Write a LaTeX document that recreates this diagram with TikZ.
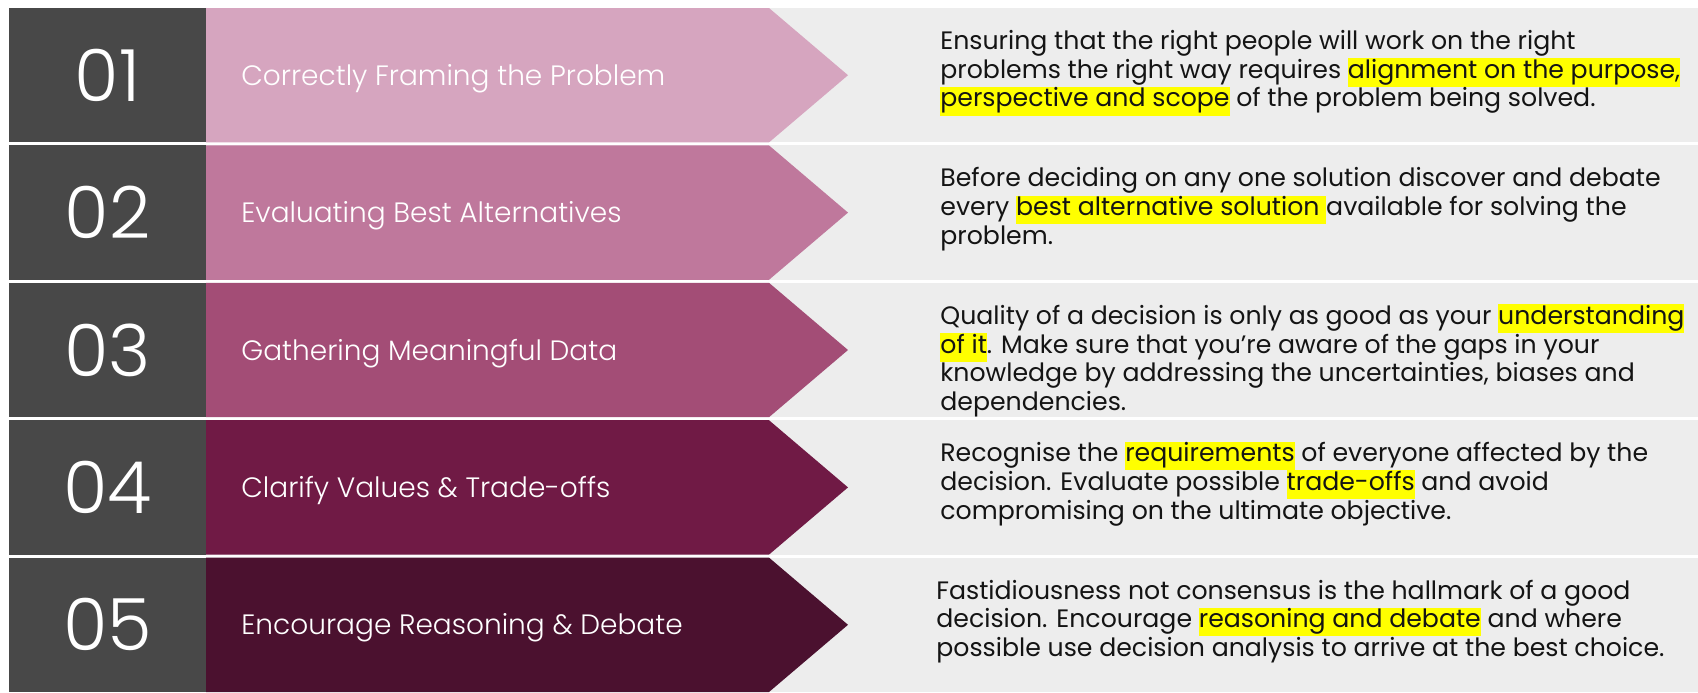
\documentclass[tikz,border=0pt]{standalone}
\usepackage{fontspec}
\setmainfont{Poppins}
\newfontfamily\lightfont{Poppins Light}
\usetikzlibrary{positioning}

\definecolor{numgray}{HTML}{484848}
\definecolor{rowgray}{HTML}{EDEDED}
\definecolor{textblack}{HTML}{141414}
\definecolor{hlyellow}{HTML}{FFFF00}
\definecolor{stepA}{HTML}{D6A5BF}
\definecolor{stepB}{HTML}{BF789C}
\definecolor{stepC}{HTML}{A34D76}
\definecolor{stepD}{HTML}{701A45}
\definecolor{stepE}{HTML}{4B112F}

\newcommand{\hl}[1]{{\setlength{\fboxsep}{0pt}\colorbox{hlyellow}{\strut #1}}}

\begin{document}
\begin{tikzpicture}[x=0.5pt,y=-0.5pt,
    numtext/.style={text=white,font=\lightfont\fontsize{36}{40}\selectfont},
    title/.style={text=white,anchor=west,inner sep=0pt,font=\lightfont\fontsize{14}{16}\selectfont},
    desc/.style={text=textblack,anchor=north west,inner sep=0pt,align=left,font=\fontsize{12.6}{14.35}\selectfont}]
  \useasboundingbox (0,0) rectangle (1698,692);

  \foreach \i/\c in {1/stepA,2/stepB,3/stepC,4/stepD,5/stepE} {
    \pgfmathsetmacro\top{8+137.4*(\i-1)}
    \pgfmathsetmacro\bot{\top+134.4}
    \pgfmathsetmacro\mid{\top+67.2}
    \fill[rowgray] (9,\top) rectangle (1698,\bot);
    \fill[\c] (206,\top) -- (769,\top) -- (848,\mid) -- (769,\bot) -- (206,\bot) -- cycle;
    \fill[numgray] (9,\top) rectangle (206,\bot);
    \node[numtext] (num\i) at (107.5,\mid) {0\i};
    \coordinate (txt\i) at (940,\top+21);
  }

  \node[title] (title1) at (241,78.5)  {Correctly Framing the Problem};
  \node[title] (title2) at (241,215.9) {Evaluating Best Alternatives};
  \node[title] (title3) at (241,353.3) {Gathering Meaningful Data};
  \node[title] (title4) at (241,490.7) {Clarify Values \& Trade-offs};
  \node[title] (title5) at (241,628.1) {Encourage Reasoning \& Debate};

  \node[desc] (desc1) at (txt1) {\strut Ensuring that the right people will work on the right\\
    \strut problems the right way requires \hl{alignment on the purpose,}\\
    \hl{perspective and scope} of the problem being solved.};
  \node[desc] (desc2) at (txt2) {\strut Before deciding on any one solution discover and debate\\
    \strut every \hl{best alternative solution }available for solving the\\
    \strut problem.};
  \node[desc] (desc3) at (txt3) {\strut Quality of a decision is only as good as your \hl{understanding}\\
    \hl{of it}. Make sure that you’re aware of the gaps in your\\
    \strut knowledge by addressing the uncertainties, biases and\\
    \strut dependencies.};
  \node[desc] (desc4) at (txt4) {\strut Recognise the \hl{requirements} of everyone affected by the\\
    \strut decision. Evaluate possible \hl{trade-offs} and avoid\\
    \strut compromising on the ultimate objective.};
  \node[desc] (desc5) at ([xshift=-2]txt5) {\strut Fastidiousness not consensus is the hallmark of a good\\
    \strut decision. Encourage \hl{reasoning and debate} and where\\
    \strut possible use decision analysis to arrive at the best choice.};
\end{tikzpicture}
\end{document}
